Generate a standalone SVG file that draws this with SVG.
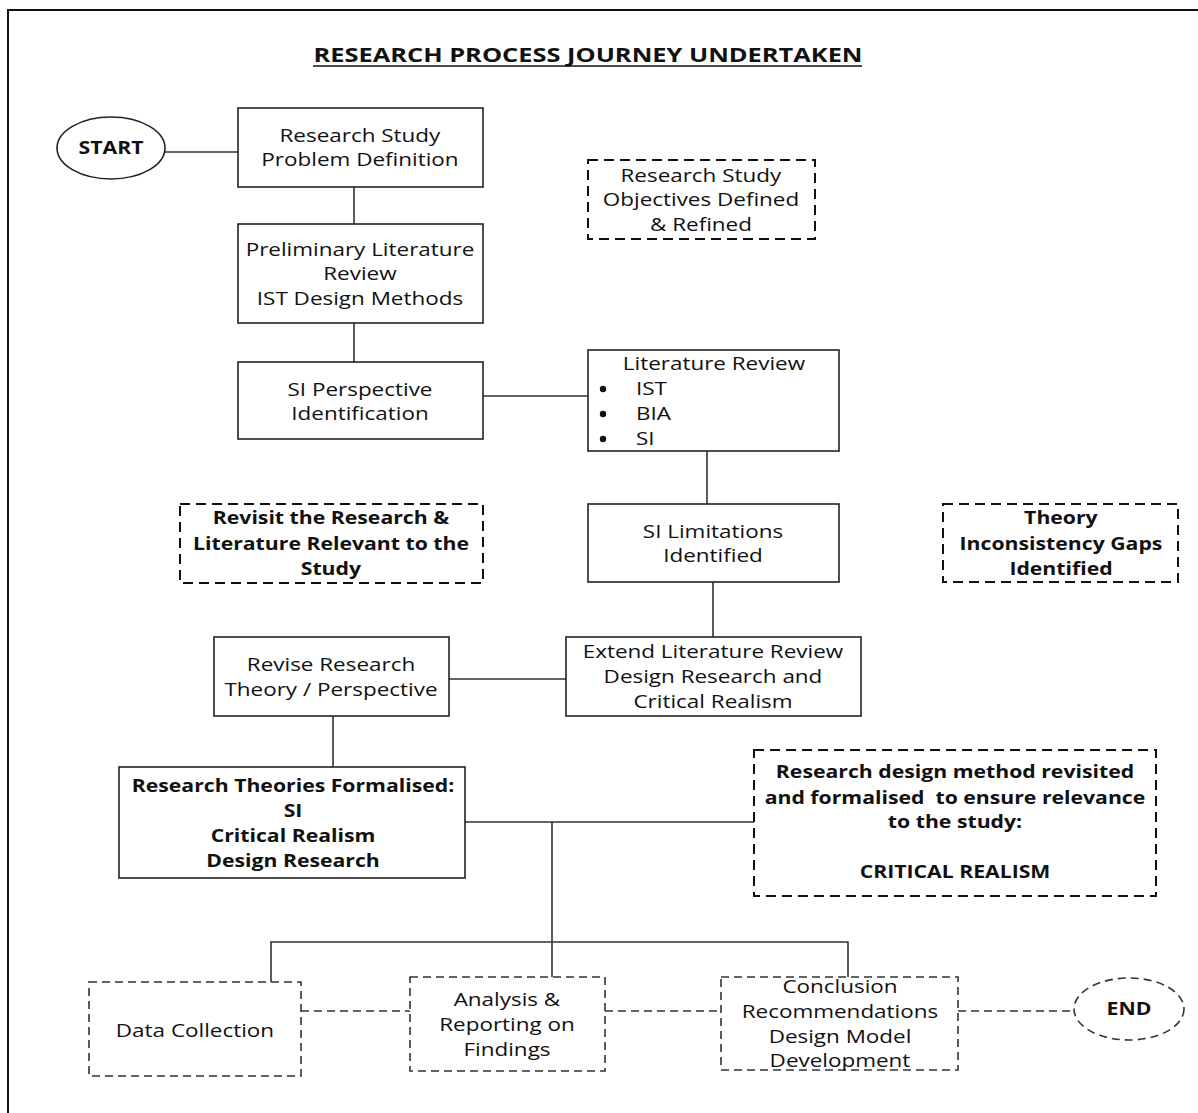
<svg xmlns="http://www.w3.org/2000/svg" width="1198" height="1113" viewBox="0 0 1198 1113">
  <style>
    .box { fill: #fff; stroke: #222; stroke-width: 1.6; }
    .dbox { fill: #fff; stroke: #111; stroke-width: 2; stroke-dasharray: 10 6; }
    .dbox2 { fill: #fff; stroke: #333; stroke-width: 1.6; stroke-dasharray: 8 5; }
    .wire { fill: none; stroke: #333; stroke-width: 1.6; }
    .dwire { fill: none; stroke: #333; stroke-width: 1.6; stroke-dasharray: 8 5; }
    text { font-family: "Open Sans", "Liberation Sans", sans-serif; font-size: 17.4px; fill: #111; text-anchor: middle;
           transform-box: fill-box; transform-origin: center; transform: scaleX(1.29); }
    .b { font-weight: bold; transform: scaleX(1.22); }
    .left { text-anchor: start; transform-origin: left center; }
    .title { transform: none; font-size: 20px; }
  </style>

  <!-- page frame -->
  <rect x="8" y="10" width="1200" height="1110" fill="#fff" stroke="#111" stroke-width="2"/>

  <!-- heading -->
  <g id="title">
    <text x="588" y="62" class="b title" textLength="549" lengthAdjust="spacingAndGlyphs">RESEARCH PROCESS JOURNEY UNDERTAKEN</text>
    <line x1="313" y1="66" x2="862" y2="66" stroke="#111" stroke-width="1.6"/>
  </g>

  <!-- connectors -->
  <g id="connectors">
    <path class="wire" d="M165 152 H238"/>
    <path class="wire" d="M354 187 V224"/>
    <path class="wire" d="M354 323 V362"/>
    <path class="wire" d="M483 396 H588"/>
    <path class="wire" d="M707 451 V504"/>
    <path class="wire" d="M713 582 V637"/>
    <path class="wire" d="M449 679 H566"/>
    <path class="wire" d="M333 716 V767"/>
    <path class="wire" d="M465 822 H754"/>
    <path class="wire" d="M552 822 V977"/>
    <path class="wire" d="M271 982 V942 H848 V977"/>
    <path class="dwire" d="M301 1011 H410"/>
    <path class="dwire" d="M605 1011 H721"/>
    <path class="dwire" d="M958 1011 H1074"/>
  </g>

  <g id="start">
    <ellipse cx="111" cy="148" rx="54" ry="31" class="box"/>
    <text x="111" y="154" class="b" font-size="18">START</text>
  </g>

  <g id="problem-definition">
    <rect x="238" y="108" width="245" height="79" class="box"/>
    <text x="360" y="142">Research Study</text>
    <text x="360" y="166">Problem Definition</text>
  </g>

  <g id="preliminary-review">
    <rect x="238" y="224" width="245" height="99" class="box"/>
    <text x="360" y="256">Preliminary Literature</text>
    <text x="360" y="280">Review</text>
    <text x="360" y="305">IST Design Methods</text>
  </g>

  <g id="si-perspective">
    <rect x="238" y="362" width="245" height="77" class="box"/>
    <text x="360" y="396">SI Perspective</text>
    <text x="360" y="420">Identification</text>
  </g>

  <g id="objectives">
    <rect x="588" y="160" width="227" height="79" class="dbox"/>
    <text x="701" y="182">Research Study</text>
    <text x="701" y="206">Objectives Defined</text>
    <text x="701" y="231">&amp; Refined</text>
  </g>

  <g id="literature-review">
    <rect x="588" y="350" width="251" height="101" class="box"/>
    <text x="714" y="370">Literature Review</text>
    <circle cx="603" cy="389" r="3.2" fill="#111"/>
    <circle cx="603" cy="414" r="3.2" fill="#111"/>
    <circle cx="603" cy="439" r="3.2" fill="#111"/>
    <text x="636" y="395" class="left">IST</text>
    <text x="636" y="420" class="left">BIA</text>
    <text x="636" y="445" class="left">SI</text>
  </g>

  <g id="revisit">
    <rect x="180" y="504" width="303" height="79" class="dbox"/>
    <text x="331" y="524" class="b">Revisit the Research &amp;</text>
    <text x="331" y="550" class="b">Literature Relevant to the</text>
    <text x="331" y="575" class="b">Study</text>
  </g>

  <g id="si-limitations">
    <rect x="588" y="504" width="251" height="78" class="box"/>
    <text x="713" y="538">SI Limitations</text>
    <text x="713" y="562">Identified</text>
  </g>

  <g id="theory-gaps">
    <rect x="943" y="504" width="235" height="78" class="dbox"/>
    <text x="1061" y="524" class="b">Theory</text>
    <text x="1061" y="550" class="b">Inconsistency Gaps</text>
    <text x="1061" y="575" class="b">Identified</text>
  </g>

  <g id="revise-theory">
    <rect x="214" y="637" width="235" height="79" class="box"/>
    <text x="331" y="671">Revise Research</text>
    <text x="331" y="696">Theory / Perspective</text>
  </g>

  <g id="extend-review">
    <rect x="566" y="637" width="295" height="79" class="box"/>
    <text x="713" y="658">Extend Literature Review</text>
    <text x="713" y="683">Design Research and</text>
    <text x="713" y="708">Critical Realism</text>
  </g>

  <g id="theories-formalised">
    <rect x="119" y="767" width="346" height="111" class="box"/>
    <text x="293" y="792" class="b">Research Theories Formalised:</text>
    <text x="293" y="817" class="b">SI</text>
    <text x="293" y="842" class="b">Critical Realism</text>
    <text x="293" y="867" class="b">Design Research</text>
  </g>

  <g id="design-method">
    <rect x="754" y="750" width="402" height="146" class="dbox"/>
    <text x="955" y="778" class="b">Research design method revisited</text>
    <text x="955" y="804" class="b" xml:space="preserve">and formalised  to ensure relevance</text>
    <text x="955" y="828" class="b">to the study:</text>
    <text x="955" y="878" class="b">CRITICAL REALISM</text>
  </g>

  <g id="data-collection">
    <rect x="89" y="982" width="212" height="94" class="dbox2"/>
    <text x="195" y="1037">Data Collection</text>
  </g>

  <g id="analysis">
    <rect x="410" y="977" width="195" height="94" class="dbox2"/>
    <text x="507" y="1006">Analysis &amp;</text>
    <text x="507" y="1031">Reporting on</text>
    <text x="507" y="1056">Findings</text>
  </g>

  <g id="conclusion">
    <rect x="721" y="977" width="237" height="93" class="dbox2"/>
    <text x="840" y="993">Conclusion</text>
    <text x="840" y="1018">Recommendations</text>
    <text x="840" y="1043">Design Model</text>
    <text x="840" y="1067">Development</text>
  </g>

  <g id="end">
    <ellipse cx="1129" cy="1009" rx="55" ry="31" class="dbox2"/>
    <text x="1129" y="1015" class="b" font-size="18">END</text>
  </g>
</svg>
